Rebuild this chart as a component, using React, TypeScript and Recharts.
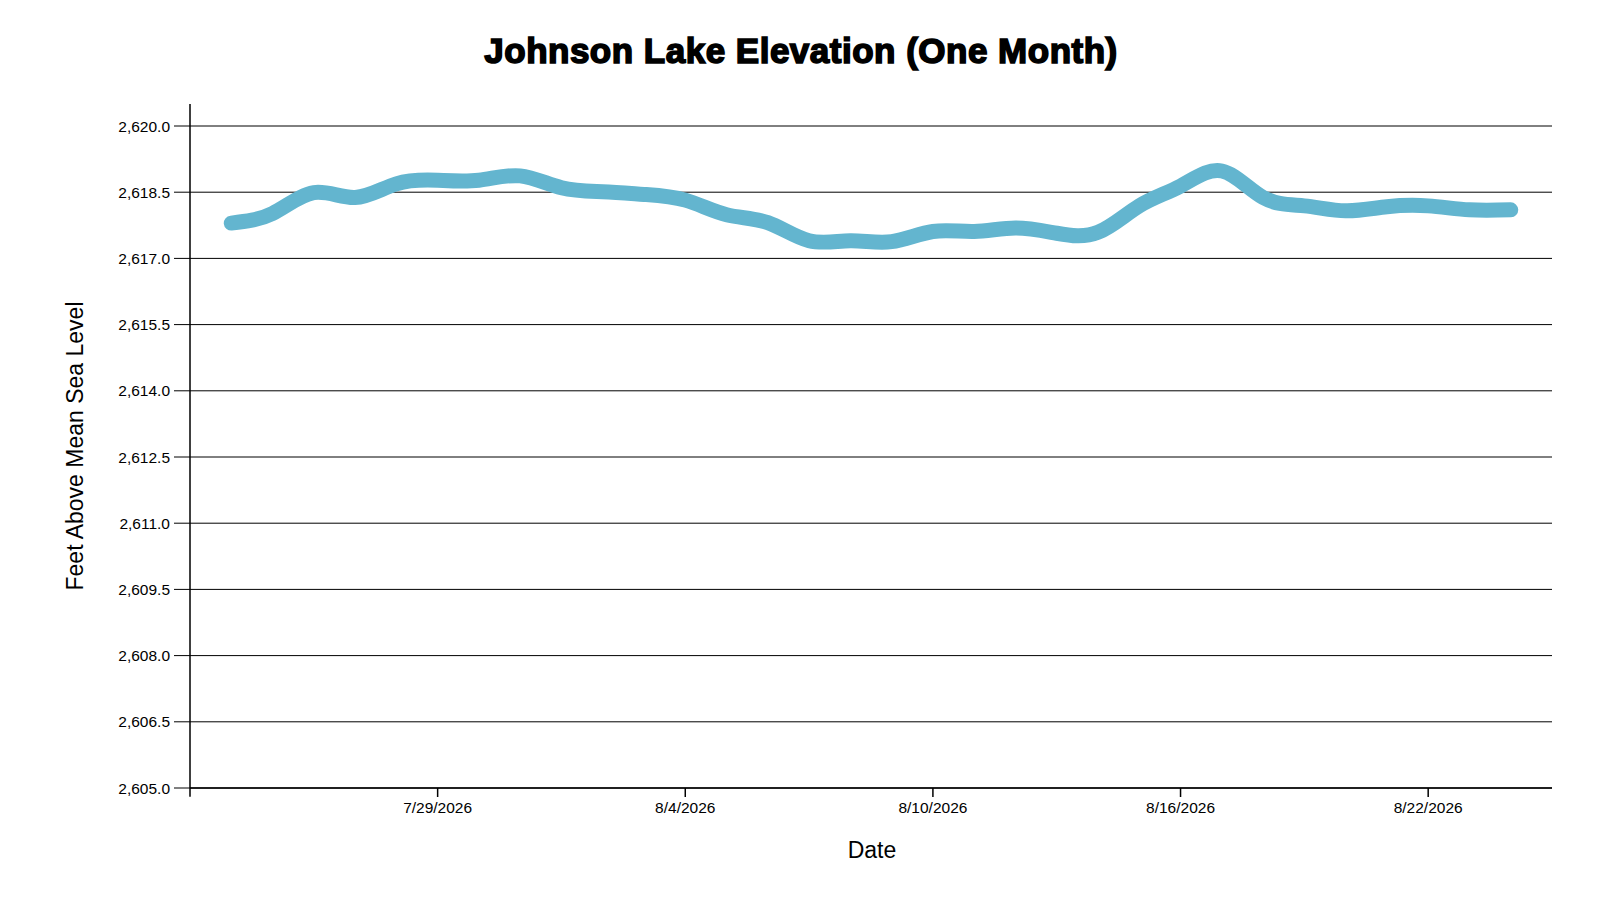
import React from 'react';
import { LineChart, Line, XAxis, YAxis, CartesianGrid, ReferenceLine, Label } from 'recharts';

const dates = [
  '2026-07-24', '2026-07-25', '2026-07-26', '2026-07-27', '2026-07-28', '2026-07-29', '2026-07-30', '2026-07-31',
  '2026-08-01', '2026-08-02', '2026-08-03', '2026-08-04', '2026-08-05', '2026-08-06', '2026-08-07', '2026-08-08',
  '2026-08-09', '2026-08-10', '2026-08-11', '2026-08-12', '2026-08-13', '2026-08-14', '2026-08-15', '2026-08-16',
  '2026-08-17', '2026-08-18', '2026-08-19', '2026-08-20', '2026-08-21', '2026-08-22', '2026-08-23', '2026-08-24',
];

const elevations = [
  2617.80, 2618.02, 2618.49, 2618.38, 2618.69, 2618.77, 2618.77, 2618.87,
  2618.60, 2618.51, 2618.45, 2618.32, 2617.99, 2617.81, 2617.40, 2617.40,
  2617.38, 2617.61, 2617.61, 2617.69, 2617.57, 2617.59, 2618.19, 2618.64,
  2618.98, 2618.38, 2618.19, 2618.08, 2618.17, 2618.19, 2618.10, 2618.10,
];

const xTickDates = ['2026-07-29', '2026-08-04', '2026-08-10', '2026-08-16', '2026-08-22'];
const xDomainDates = ['2026-07-23', '2026-08-25'];
const yTicks = [2605, 2606.5, 2608, 2609.5, 2611, 2612.5, 2614, 2615.5, 2617, 2618.5, 2620];

const toTime = (s: string) => {
  const [y, m, d] = s.split('-').map(Number);
  return Date.UTC(y, m - 1, d);
};

const data = dates.map((d, i) => ({ t: toTime(d), value: elevations[i] }));
const xTicks = xTickDates.map(toTime);
const xDomain = xDomainDates.map(toTime);

const fmtDate = (t: number) => {
  const d = new Date(t);
  return `${d.getUTCMonth() + 1}/${d.getUTCDate()}/${d.getUTCFullYear()}`;
};
const fmtElev = (v: number) =>
  v.toLocaleString('en-US', { minimumFractionDigits: 1, maximumFractionDigits: 1 });

const FONT = '"Liberation Sans", Arial, sans-serif';

const YTitle = (props: any) => {
  const { viewBox } = props;
  const cy = viewBox.y + viewBox.height / 2 - 11;
  return (
    <text x={75} y={cy} transform={`rotate(-90, 75, ${cy})`} textAnchor="middle" dominantBaseline="central"
      fontFamily={FONT} fontSize={23} fill="#000">
      Feet Above Mean Sea Level
    </text>
  );
};

const XTitle = (props: any) => {
  const { viewBox } = props;
  const cx = viewBox.x + viewBox.width / 2 + 1;
  return (
    <text x={cx} y={858} textAnchor="middle" fontFamily={FONT} fontSize={23} fill="#000">
      Date
    </text>
  );
};

export default function App() {
  return (
    <div style={{ position: 'absolute', left: 0, top: 0, width: 1600, height: 900, background: '#fff' }}>
      <div style={{
        position: 'absolute', left: 0, width: 1602, top: 26, textAlign: 'center',
        fontFamily: FONT, fontWeight: 700, fontSize: 35, color: '#000', letterSpacing: '0.5px',
        WebkitTextStroke: '1.6px #000', lineHeight: '50px',
      }}>
        Johnson Lake Elevation (One Month)
      </div>
      <LineChart width={1600} height={900} data={data} margin={{ top: 126, right: 48, bottom: 60, left: 110 }}>
        <CartesianGrid horizontal vertical={false} stroke="#000" strokeWidth={1} />
        <XAxis
          dataKey="t"
          type="number"
          scale="time"
          domain={xDomain}
          ticks={xTicks}
          tickFormatter={fmtDate}
          height={52}
          tickSize={9}
          tickMargin={5}
          stroke="#000"
          axisLine={{ stroke: '#000', strokeWidth: 1.5 }}
          tickLine={{ stroke: '#000', strokeWidth: 1.5 }}
          tick={{ fill: '#000', fontSize: 15.5, fontFamily: FONT }}
        >
          <Label content={<XTitle />} />
        </XAxis>
        <YAxis
          type="number"
          domain={[2605, 2620]}
          ticks={yTicks}
          tickFormatter={fmtElev}
          width={80}
          tickSize={16}
          tickMargin={4}
          axisLine={false}
          tickLine={{ stroke: '#000', strokeWidth: 1 }}
          tick={{ fill: '#000', fontSize: 15.5, fontFamily: FONT }}
        >
          <Label content={<YTitle />} />
        </YAxis>
        <ReferenceLine
          segment={[{ x: xDomain[0], y: 2604.8 }, { x: xDomain[0], y: 2620.5 }]}
          ifOverflow="visible"
          stroke="#000"
          strokeWidth={1.5}
        />
        <Line
          type="natural"
          dataKey="value"
          stroke="#63b5cf"
          strokeWidth={15}
          strokeLinecap="round"
          strokeLinejoin="round"
          dot={false}
          activeDot={false}
          isAnimationActive={false}
        />
      </LineChart>
    </div>
  );
}
